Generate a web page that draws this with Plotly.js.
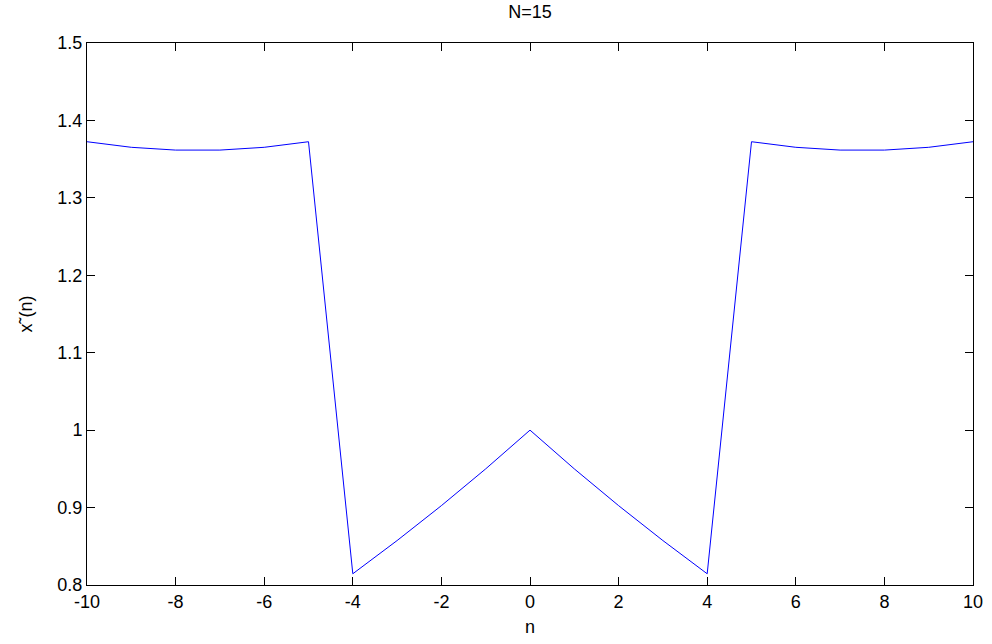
<!DOCTYPE html>
<html><head><meta charset="utf-8">
<script src="https://cdn.plot.ly/plotly-3.0.1.min.js"></script>
<style>html,body{margin:0;padding:0;background:#fff}</style>
</head><body>
<div id="chart" style="width:992px;height:644px"></div>
<script>
const n = [-10,-9,-8,-7,-6,-5,-4,-3,-2,-1,0,1,2,3,4,5,6,7,8,9,10];
const xt = [1.3725,1.3653,1.3617,1.3617,1.3653,1.3725,0.8145,0.8574,0.9025,0.95,1.0,0.95,0.9025,0.8574,0.8145,1.3725,1.3653,1.3617,1.3617,1.3653,1.3725];
const xTicks = [-10,-8,-6,-4,-2,0,2,4,6,8,10];
const xTickText = ['-10','-8','-6','-4','-2','0','2','4','6','8','10'];
const yTicks = [0.8,0.9,1,1.1,1.2,1.3,1.4,1.5];
const yTickText = ['0.8','0.9','1','1.1','1.2','1.3','1.4','1.5'];

const FONT = 'Liberation Sans, Arial, sans-serif';
const FS = 18;
const axisCommon = {
  showgrid:false, zeroline:false, showline:true, linecolor:'#000', linewidth:1,
  mirror:'ticks', ticks:'inside', ticklen:8, tickcolor:'#000', tickwidth:1,
  tickfont:{family:FONT, size:FS, color:'#000'}
};
Plotly.newPlot('chart', [{
  x:n, y:xt, type:'scatter', mode:'lines',
  line:{color:'#0000ff', width:1}
}], {
  width:992, height:644,
  margin:{l:87, r:19, t:43, b:59},
  paper_bgcolor:'#fff', plot_bgcolor:'#fff',
  showlegend:false,
  title:{text:'N=15', x:0.5, xref:'paper', yref:'container', y:1-5/644, yanchor:'top',
    font:{family:FONT, size:FS, color:'#000'}},
  xaxis:Object.assign({}, axisCommon, {range:[-10,10], tickvals:xTicks, ticktext:xTickText,
    title:{text:'n', standoff:9, font:{family:FONT, size:FS, color:'#000'}}}),
  yaxis:Object.assign({}, axisCommon, {range:[0.8,1.5], tickvals:yTicks, ticktext:yTickText,
    title:{text:'x˜(n)', standoff:20, font:{family:FONT, size:FS, color:'#000'}}})
}, {displayModeBar:false, staticPlot:true});
</script>
</body></html>
